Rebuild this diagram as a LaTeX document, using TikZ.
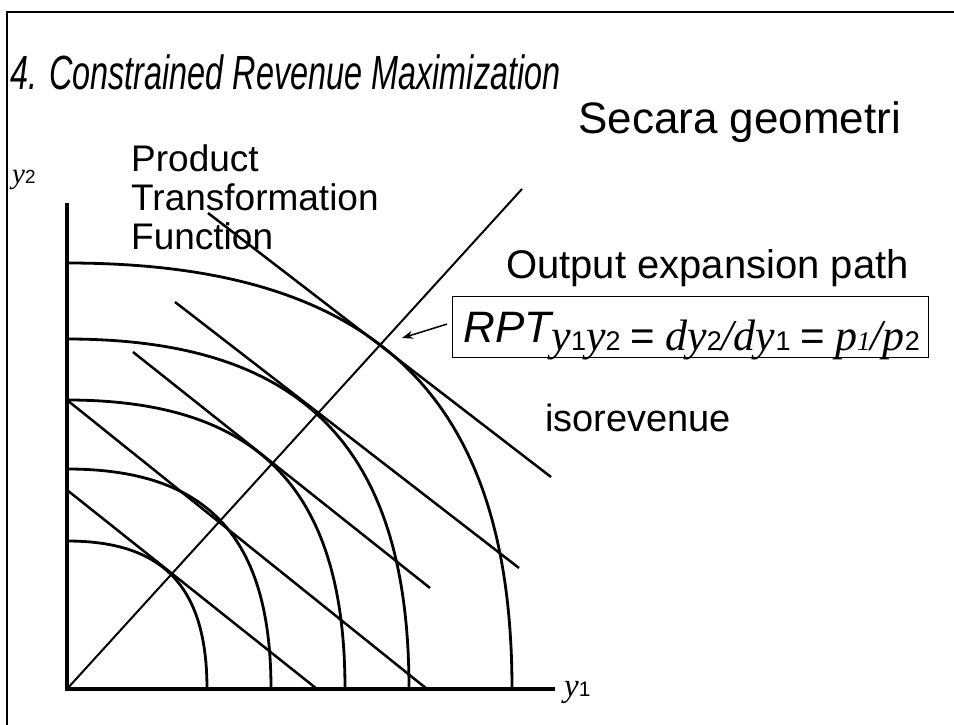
\documentclass[tikz,border=0pt]{standalone}
\usepackage{fontspec}
\setmainfont{Liberation Sans}
\newfontfamily\serifit{Liberation Serif}
\usetikzlibrary{arrows.meta}
\newcommand\ity{{\serifit\itshape y}}
\newcommand\itd{{\serifit\itshape d}}
\newcommand\itp{{\serifit\itshape p}}
\newcommand\smalldig[1]{{\fontsize{27}{27}\selectfont #1}}
\newcommand\eqgap{\hspace{10pt}}
\begin{document}
\begin{tikzpicture}[x=1pt,y=-1pt,
  frameline/.style={line width=2.5pt},
  axis/.style={line width=4pt, line join=miter},
  ppf/.style={line width=2.8pt},
  isorev/.style={line width=2.5pt},
  exppath/.style={line width=2pt},
  pointer/.style={line width=1.5pt, -{Stealth[length=11pt,width=8pt]}},
  lbl/.style={inner sep=0pt, anchor=west},
  titlelbl/.style={inner sep=0pt, anchor=west, font=\fontsize{48}{48}\selectfont\itshape},
  formulabox/.style={draw, line width=1.2pt, anchor=north west, minimum width=476pt,
     minimum height=61pt, inner xsep=11pt, inner ysep=0pt, text width=454pt, align=left},
]
\useasboundingbox (0,0) rectangle (954,725);
\fill[white] (0,0) rectangle (954,725);
% frame
\coordinate (frBL) at (7,725);
\coordinate (frTL) at (7,12);
\coordinate (frTR) at (954,12);
\draw[frameline] (frBL) -- (frTL) -- (frTR);

% title and labels
\node[titlelbl] (title) at (10,72) {\scalebox{0.675}[1]{4. Constrained Revenue Maximization}};
\node[lbl, font=\fontsize{44}{44}\selectfont] (secara) at (578,122) {Secara geometri};
\node[lbl, font=\fontsize{37}{37}\selectfont] (prod1) at (131,158) {Product};
\node[lbl, font=\fontsize{37}{37}\selectfont] (prod2) at (131,197) {Transformation};
\node[lbl, font=\fontsize{37}{37}\selectfont] (prod3) at (131,236) {Function};
\node[lbl, font=\fontsize{40}{40}\selectfont] (oep) at (506,268) {Output expansion path};
\node[lbl, font=\fontsize{38}{38}\selectfont] (isorev) at (545,418) {isorevenue};

% axes
\coordinate (O) at (67,689);
\coordinate (Ytop) at (67,203);
\coordinate (Xend) at (555,689);
\draw[axis] (Ytop) -- (O) -- (Xend);
\node[inner sep=0pt, anchor=base west] (ylab) at (12,183)
  {\fontsize{29}{29}\selectfont\ity\fontsize{19}{19}\selectfont 2};
\node[inner sep=0pt, anchor=base west] (xlab) at (564,696)
  {\fontsize{33}{33}\selectfont\ity\fontsize{21}{21}\selectfont 1};

% production possibility (transformation) curves
\coordinate (c1a) at (67,541); \coordinate (c1b) at (207,689);
\coordinate (c2a) at (67,469); \coordinate (c2b) at (271,689);
\coordinate (c3a) at (67,400); \coordinate (c3b) at (345,689);
\coordinate (c4a) at (67,339); \coordinate (c4b) at (409,689);
\coordinate (c5a) at (67,263); \coordinate (c5b) at (512,689);
\draw[ppf] (c1a) .. controls (163.6,541) and (207,586.9) .. (c1b);
\draw[ppf] (c2a) .. controls (207.8,469) and (271,537.2) .. (c2b);
\draw[ppf] (c3a) .. controls (258.8,400) and (345,489.6) .. (c3b);
\draw[ppf] (c4a) .. controls (303,339) and (409,447.5) .. (c4b);
\draw[ppf] (c5a) .. controls (374,263) and (512,395) .. (c5b);

% isorevenue lines
\coordinate (l1a) at (67,490);  \coordinate (l1b) at (317,689);
\coordinate (l2a) at (67,400);  \coordinate (l2b) at (427,689);
\coordinate (l3a) at (133,352); \coordinate (l3b) at (430,588);
\coordinate (l4a) at (175,302); \coordinate (l4b) at (519,568);
\coordinate (l5a) at (208,213); \coordinate (l5b) at (551,477);
\draw[isorev] (l1a) -- (l1b);
\draw[isorev] (l2a) -- (l2b);
\draw[isorev] (l3a) -- (l3b);
\draw[isorev] (l4a) -- (l4b);
\draw[isorev] (l5a) -- (l5b);

% output expansion path
\coordinate (pathend) at (522,189);
\draw[exppath] (O) -- (pathend);

% formula box
\node[formulabox] (box) at (452,296) {%
  \raisebox{-9pt}[\height][\depth]{%
  \fontsize{44}{44}\selectfont
  \raisebox{8pt}{\fontsize{44}{44}\selectfont\itshape RPT}%
  \ity\smalldig{1}\ity\smalldig{2}\eqgap{\fontsize{42}{42}\selectfont=}\eqgap
  \itd\ity\smalldig{2}{\serifit\itshape /}\itd\ity\smalldig{1}\eqgap{\fontsize{42}{42}\selectfont=}\eqgap
  \itp{\serifit\itshape\smalldig{1}}{\serifit\itshape /}\itp\smalldig{2}}};
\coordinate (tip) at (402,338);
\draw[pointer] ([xshift=-5pt,yshift=3pt]box.west) -- (tip);
\end{tikzpicture}
\end{document}
